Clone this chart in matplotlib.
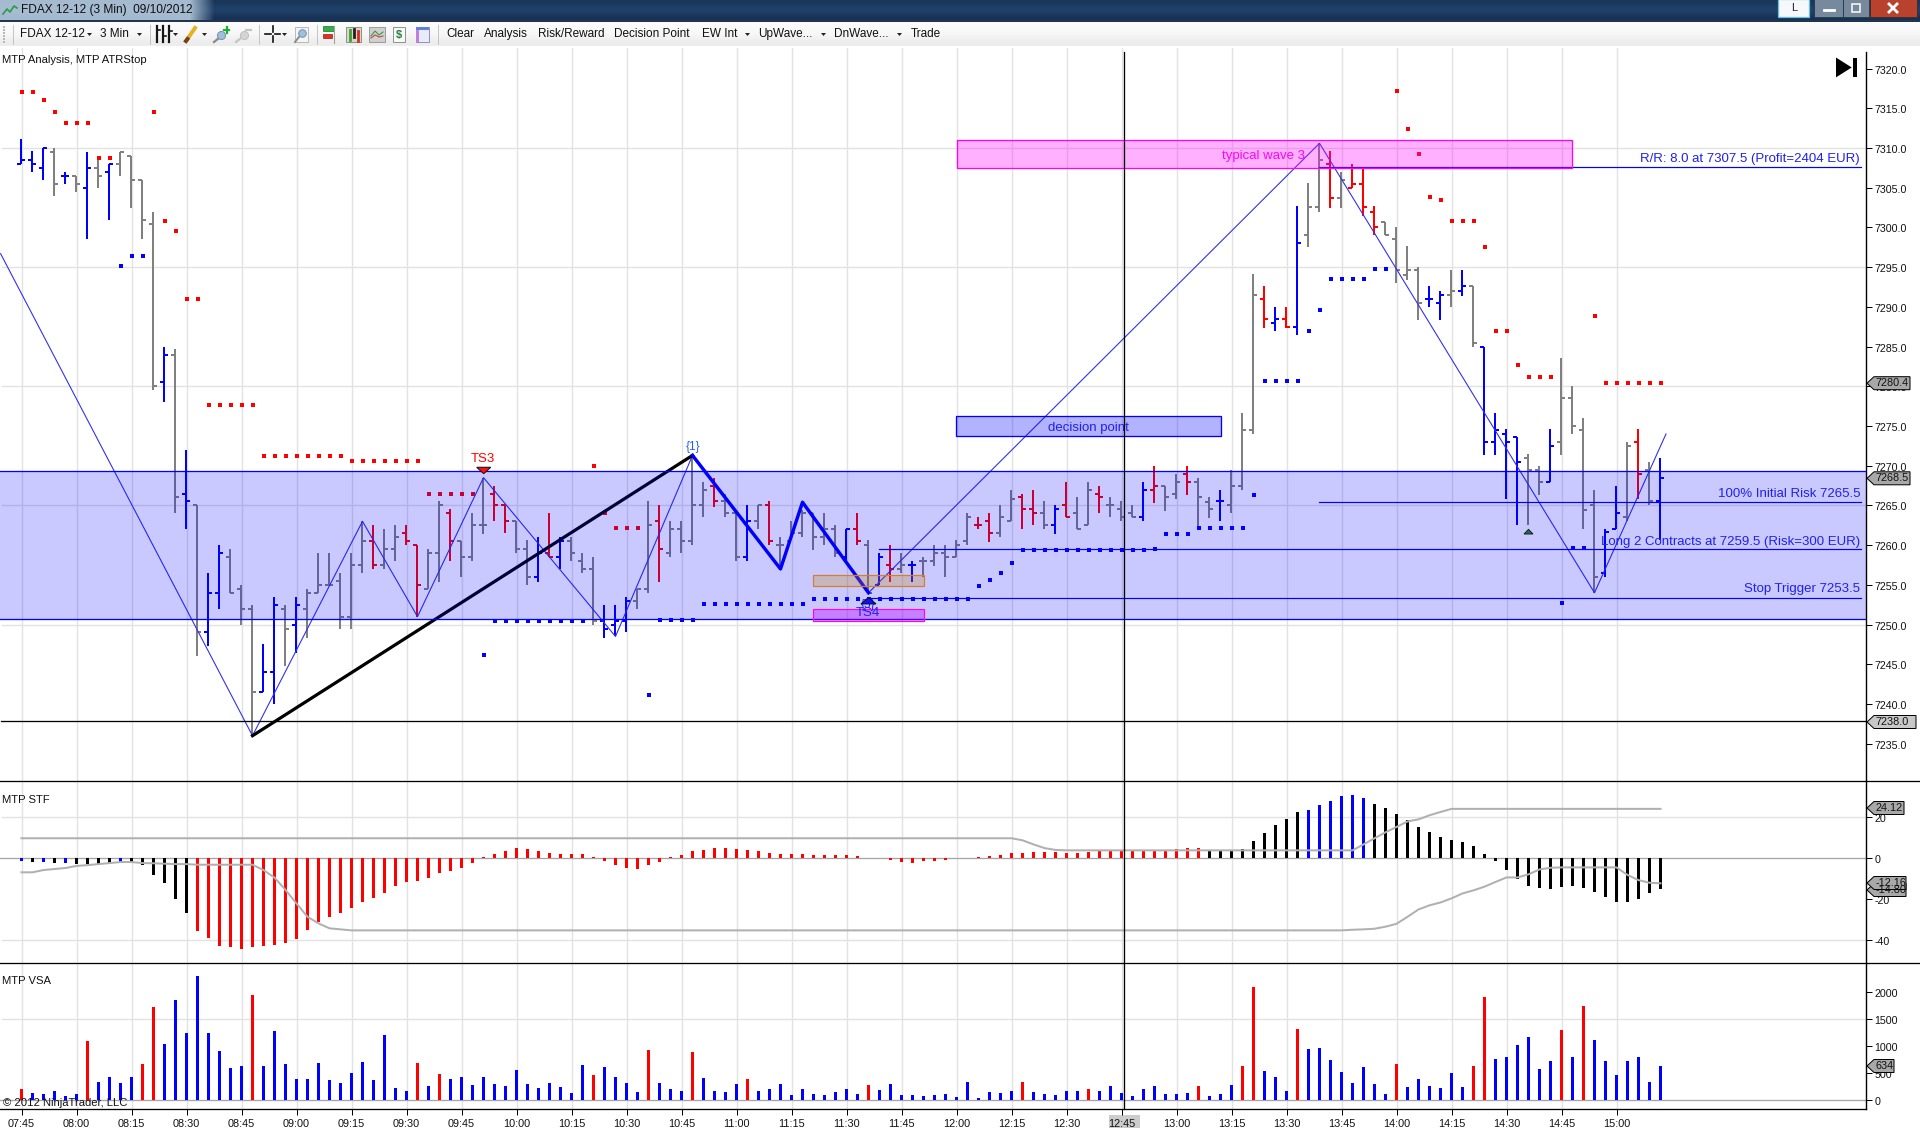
"""
FDAX 12-12 3 min chart, NinjaTrader style screenshot
"""
import matplotlib
matplotlib.use('Agg')
import matplotlib.pyplot as plt
from matplotlib.patches import Polygon, Rectangle
from matplotlib.transforms import ScaledTranslation
import numpy as np

plt.rcParams['font.family'] = ['Liberation Sans', 'DejaVu Sans']
plt.rcParams['axes.unicode_minus'] = False

W, H = 1920, 1131
AXIS_X = 1866
BAR0_X, BAR_PX = 21.5, 11.0

# one letter per bar: g grey, b blue, r red
bar_colors = ("bbbgbgbgbg" "gggbgbgbbg" "ggbbgbgggg" "ggrggrrggr" "gggrrggbrb"
              "gggbbbggrg" "gggrggbgrg" "gggggbrgbr" "gbgggggrrg" "grrgbrggrg"
              "ggbrggrggb" "gggrbrbggr" "grrrggggbb" "gbgbbbbggb" "ggggbbgrgb")
opens = [7308, 7308.5, 7307.5, 7309.5, 7306.5, 7306.5, 7305, 7307.5, 7307, 7308, 7309, 7306, 7300.5, 7280.6, 7284,
         7266.5, 7265, 7249, 7254, 7258.5, 7254.5, 7252, 7241.5, 7244, 7252, 7250, 7252, 7254, 7255, 7255.5,
         7251, 7257.5, 7260.5, 7257.5, 7259.5, 7261.5, 7260, 7254.5, 7259, 7264, 7260.5, 7258.5, 7262.5, 7266.4, 7265,
         7263, 7259.5, 7256, 7259, 7258.5, 7260.5, 7258, 7257, 7250.5, 7250, 7250.5, 7253, 7254.5, 7263, 7259,
         7262, 7260.5, 7265, 7267.5, 7265.5, 7264, 7258.5, 7263, 7265, 7260, 7260.5, 7261.5, 7264, 7261, 7262,
         7258.5, 7262, 7260, 7255, 7257.5, 7257, 7257.5, 7258, 7258, 7259, 7258.5, 7260.5, 7262.5, 7263, 7261.5,
         7263, 7266, 7264.5, 7264, 7262.5, 7265, 7264, 7262.5, 7266.5, 7265, 7264.5, 7264, 7263.5, 7267, 7267.5,
         7266.4, 7269, 7268, 7265.4, 7265.5, 7265, 7267.5, 7274.5, 7291, 7288, 7288.5, 7287.5, 7299, 7302.6, 7308,
         7303.7, 7305, 7305.5, 7302, 7300.7, 7298.6, 7294, 7294.6, 7291, 7290.5, 7291.5, 7292, 7292.6, 7285, 7273,
         7274, 7273.6, 7271, 7269.5, 7268, 7273, 7278.5, 7274.5, 7265, 7256.5, 7262, 7263.5, 7273, 7269.5, 7265.5]
highs = [7311.1, 7309.6, 7310, 7310, 7307, 7306.5, 7309.5, 7309, 7308, 7309.5, 7309, 7306, 7302, 7285, 7284.7,
         7272, 7265, 7256.5, 7260, 7259.5, 7255, 7252.5, 7247.5, 7253.5, 7252.5, 7253.5, 7254.5, 7259, 7259, 7256.5,
         7259, 7263, 7262.5, 7262, 7262.5, 7262.5, 7260, 7259.5, 7265.5, 7264.5, 7260.5, 7264, 7268.5, 7267.5, 7265,
         7263, 7260.6, 7261, 7264, 7261, 7261, 7259, 7258.5, 7252.5, 7252.5, 7253.5, 7254.5, 7265.5, 7265, 7263,
         7263, 7271.3, 7268, 7268.5, 7266.5, 7264, 7265, 7265, 7265.5, 7261, 7263, 7264.4, 7264, 7264, 7262.5,
         7262, 7264, 7260.6, 7259, 7260, 7259, 7258, 7258.5, 7260, 7260, 7260.6, 7264, 7263.6, 7264, 7265,
         7267, 7266.5, 7267, 7265.5, 7265, 7268, 7266, 7268, 7267.5, 7266, 7265.5, 7265, 7268, 7270, 7267.5,
         7269, 7270, 7268.5, 7266, 7267, 7269.5, 7276.6, 7294.2, 7292.6, 7290, 7290, 7302.7, 7305.6, 7310.6, 7309.6,
         7307, 7308, 7307.6, 7302.7, 7300.7, 7300, 7297.7, 7295, 7292.6, 7292, 7294.6, 7294.6, 7292.6, 7285, 7276.6,
         7274.6, 7273.6, 7271.5, 7270, 7274.6, 7283.6, 7280, 7276, 7267, 7262, 7267.5, 7273, 7274.6, 7270.5, 7271]
lows = [7308, 7307, 7306, 7304, 7305.5, 7304.5, 7298.5, 7305, 7301, 7306.5, 7302.5, 7298.5, 7279.5, 7278, 7264,
        7262, 7246, 7247.3, 7252, 7254, 7250, 7236, 7241.5, 7240, 7244.8, 7246.4, 7248.3, 7254, 7255, 7249.5,
        7249.5, 7256.5, 7257, 7257, 7258, 7260, 7251, 7254.5, 7255.4, 7258, 7256, 7258, 7261.4, 7263, 7261.5,
        7259, 7255, 7255.4, 7258.5, 7257, 7258, 7256.5, 7250, 7248.3, 7248.5, 7249, 7252, 7254, 7255.4, 7258.5,
        7259, 7260, 7263.5, 7264.8, 7263.5, 7258, 7258, 7262, 7260, 7257, 7261, 7261, 7259.4, 7260, 7258.5,
        7258, 7260, 7254, 7255, 7255.4, 7256.5, 7255.4, 7256, 7257.4, 7256, 7258.5, 7260, 7262, 7260.4, 7261,
        7263, 7262, 7262.5, 7262, 7261.4, 7263.5, 7262, 7262.5, 7264, 7263.5, 7263, 7263.5, 7263, 7265.3, 7264.3,
        7265.8, 7266.3, 7262.3, 7263.4, 7263, 7264, 7267, 7274, 7287.4, 7287, 7287.4, 7286.5, 7297.5, 7302, 7302.5,
        7302.5, 7305, 7301.5, 7299, 7299, 7293, 7293.4, 7288.4, 7290, 7288.4, 7290, 7291.4, 7285, 7271.4, 7271.4,
        7265.8, 7262.5, 7262.5, 7266.3, 7268, 7271.4, 7274, 7262, 7254, 7256, 7262, 7263, 7265.8, 7265, 7260.6]
closes = [7308.5, 7308, 7310, 7305.5, 7306.5, 7305.5, 7307.5, 7306.5, 7308, 7309.5, 7306, 7301, 7280, 7284, 7266,
          7265.5, 7249, 7254, 7259, 7254, 7252, 7241.5, 7244, 7252.5, 7249.5, 7252.5, 7254, 7255, 7255, 7251,
          7257.5, 7260.5, 7257.5, 7259.5, 7261, 7260.5, 7255, 7259, 7265, 7260.5, 7258.5, 7262.5, 7262.5, 7265, 7263,
          7259.5, 7256, 7259, 7258.5, 7260.5, 7259, 7257, 7250.5, 7249.5, 7250.5, 7253, 7254.5, 7262.5, 7259.5, 7262,
          7260.5, 7265, 7267, 7265.5, 7264, 7258.5, 7263, 7265, 7260.5, 7260, 7261.5, 7264, 7261, 7262, 7259,
          7262, 7260.5, 7254, 7258.5, 7257, 7257.5, 7257.5, 7258, 7259, 7258.5, 7260, 7263.5, 7262.5, 7261.5, 7263.5,
          7265.8, 7264.5, 7264, 7262.5, 7264.5, 7263.5, 7262, 7267, 7266, 7265, 7263.5, 7263.5, 7267, 7267.5, 7266,
          7268, 7268, 7266, 7264.5, 7265.5, 7267.5, 7274.5, 7291.5, 7288.5, 7288.5, 7287.5, 7298, 7302.6, 7308.5, 7303.7,
          7306, 7305.5, 7302.6, 7300, 7299, 7294.6, 7294.6, 7290.5, 7291, 7291.5, 7292, 7292.6, 7285.4, 7273, 7274.5,
          7273, 7270.5, 7269.5, 7268, 7272.5, 7278.5, 7275, 7264.4, 7256, 7261.6, 7264, 7272.5, 7269, 7265.5, 7268.5]

# ATR stop dots: (bar, price)
stop_red_bars = list(range(0, 9)) + list(range(12, 37)) + list(range(37, 42)) + list(range(52, 57)) + list(range(125, 140)) + list(range(143, 150))
stop_red_vals = [7317, 7317, 7316, 7314.6, 7313.2, 7313.2, 7313.2, 7308.7, 7308.7,
                 7314.5, 7300.8, 7299.6, 7291, 7291, 7277.6, 7277.6, 7277.6, 7277.6, 7277.6,
                 7271.2, 7271.2, 7271.2, 7271.2, 7271.2, 7271.2, 7271.2, 7271.2,
                 7270.6, 7270.6, 7270.6, 7270.6, 7270.6, 7270.6, 7270.6,
                 7266.4, 7266.4, 7266.4, 7266.4, 7266.4,
                 7270, 7264, 7262.2, 7262.2, 7262.2,
                 7317.2, 7312.4, 7309.3, 7303.8, 7303.5, 7300.8, 7300.8, 7300.8, 7297.6,
                 7287, 7287, 7282.7, 7281.2, 7281.2, 7281.2,
                 7288.9, 7280.4, 7280.4, 7280.4, 7280.4, 7280.4, 7280.4]
stop_blue_bars = [9, 10, 11, 42] + list(range(43, 52)) + list(range(57, 125)) + [140, 141, 142]
stop_blue_vals = [7295.2, 7296.4, 7296.4, 7246.2] + [7250.4] * 9 + [7241.1, 7250.6, 7250.6, 7250.6, 7250.6] \
    + [7252.6] * 10 + [7253.2] * 15 + [7254.9, 7255.6, 7256.5, 7257.8] + [7259.4] * 12 + [7259.5] \
    + [7261.4] * 3 + [7262.2] * 5 + [7266.3] + [7280.7] * 4 + [7287, 7289.6] + [7293.5] * 4 + [7294.8, 7294.8] \
    + [7252.7, 7259.7, 7259.7]

# wave lines
wave_thin_bars = [-1.9, 21, 31, 36, 42, 54, 61]
wave_thin_vals = [7296.7, 7236, 7263, 7251, 7268.5, 7248.5, 7271.3]
wave_thick_bars = [61, 69, 71, 77]
wave_thick_vals = [7271.3, 7257, 7265.4, 7254]
wave_after_bars = [77, 118, 143, 149.5]
wave_after_vals = [7254, 7310.6, 7254, 7274]
black_bars = [21, 61]
black_vals = [7236, 7271.3]

price_ticks = list(range(7235, 7325, 5))
price_grid = [7250, 7265, 7280, 7295, 7310]
time_labels = ['07:45', '08:00', '08:15', '08:30', '08:45', '09:00', '09:15', '09:30', '09:45', '10:00', '10:15',
               '10:30', '10:45', '11:00', '11:15', '11:30', '11:45', '12:00', '12:15', '12:30', '12:45', '13:00',
               '13:15', '13:30', '13:45', '14:00', '14:15', '14:30', '14:45', '15:00']

stf_hist = [-1.3, -1.6, -1.6, -2.1, -2.1, -2.6, -2.8, -3.1, -2.6, -2.1, -2.1, -3.1, -8.1, -11.9, -19.7,
            -26.5, -35.3, -38.7, -42.6, -43.1, -44.1, -43.1, -42.6, -42.1, -41.1, -39.2, -34.8, -30.9, -28.5, -26.5,
            -24.1, -21.1, -19.2, -16.7, -13.3, -11.4, -10.9, -9.4, -7.0, -6.0, -4.6, -2.1, 0.5, 2.1, 3.6,
            4.9, 4.4, 3.6, 2.6, 2.1, 2.1, 2.1, 0.5, -1.1, -3.1, -4.6, -5.0, -3.1, -1.6, 0.5,
            1.6, 3.6, 4.1, 5.0, 5.0, 4.6, 4.1, 3.6, 2.6, 2.1, 2.1, 2.1, 1.6, 1.6, 1.6,
            1.6, 1.1, 0, 0.3, -0.8, -1.8, -2.3, -1.3, -1.3, -0.8, 0.3, 0, 0.6, 1.1, 1.6,
            2.6, 2.6, 3.1, 3.1, 3.1, 2.6, 2.6, 3.1, 3.6, 3.6, 3.6, 4.1, 3.6, 3.6, 3.6,
            4.6, 5.0, 5.0, 4.1, 4.1, 3.6, 4.6, 8.5, 12.4, 16.3, 19.2, 22.6, 23.6, 26, 28,
            30.4, 30.9, 29.4, 26.5, 24.6, 21.6, 18.7, 15.3, 12.8, 10.4, 8.9, 8, 6, 2.1, -1.3,
            -5.7, -9.9, -13.3, -14.3, -14.8, -13.8, -13.3, -14.3, -16.3, -18.7, -21.1, -21.1, -19.7, -16.7, -14.8]
stf_blue = [0, 2, 4, 9, 117, 118, 119, 120, 121, 122]
stf_black = list(range(0, 16)) + list(range(108, 150))

stf_upper = [9.8] * 91 + [8.8, 6.8, 5, 4.1] + [3.9] * 27 + [6.8, 9.8, 12.7, 15.3, 18, 19, 21, 22.6, 24.12] + [24.12] * 19
stf_lower = [-6.8, -6.8, -5.7, -5.2, -4.7, -3.7, -3.3, -2.8, -2.3, -1.8, -1.8, -2.3, -2.4, -2.6, -2.8, -2.8,
             -3.1, -3.1, -3.1, -3.1, -3.1, -3.1, -5.7, -9.4, -15.4, -22, -28.5, -31.7, -34.1, -34.6] \
    + [-35.1] * 91 + [-34.8, -34.6, -34.3, -33.3, -31.9, -28.5, -24.9, -22.9, -21.5, -19.5, -17.1, -15.6, -13.8,
                      -11.5, -9.3, -9.3, -7.8, -5.4, -4.6, -4.4, -4.4, -4.4, -4.4, -4.4, -4.4, -8.1, -10.6, -11.9, -12.16]

volume = [204, 130, 111, 167, 74, 111, 1092, 333, 426, 315, 426, 666, 1721, 1037, 1851,
          1240, 2295, 1240, 907, 592, 629, 1943, 629, 1277, 666, 389, 389, 685, 370, 315,
          500, 703, 370, 1203, 222, 167, 685, 259, 481, 389, 426, 278, 426, 296, 259,
          555, 296, 222, 315, 241, 130, 648, 463, 611, 426, 315, 148, 926, 315, 204,
          167, 888, 407, 167, 148, 296, 389, 167, 204, 296, 93, 204, 111, 93, 148,
          204, 111, 278, 185, 296, 93, 93, 74, 93, 111, 56, 333, 37, 148, 130,
          167, 333, 148, 111, 93, 167, 167, 204, 167, 259, 130, 74, 204, 259, 111,
          111, 130, 259, 74, 111, 278, 629, 2092, 537, 426, 167, 1314, 944, 962, 740,
          518, 315, 611, 296, 111, 666, 241, 389, 259, 222, 500, 241, 629, 1907, 759,
          796, 1018, 1166, 574, 722, 1296, 796, 1740, 1111, 722, 463, 722, 796, 333, 634]
vol_red = [0, 6, 11, 12, 21, 36, 38, 52, 57, 61, 66, 77, 91, 97, 107, 111, 112, 116, 125, 132, 133, 140, 142]

toolbar_items = [('FDAX 12-12', 20), ('3 Min', 100), ('Clear', 446), ('Analysis', 484), ('Risk/Reward', 538),
                 ('Decision Point', 614), ('EW Int', 702), ('UpWave...', 758), ('DnWave...', 834), ('Trade', 911)]
toolbar_arrows = [87, 137, 173, 202, 282, 745, 821, 897]

C = {'grid': '#e2e2e2', 'zero': '#a6a6a6', 'gray': '#808080', 'blue': '#0000ff', 'red': '#ff0000', 'band': '#b0b0b0',
     'text': '#111111'}
PX = 0.72  # one pixel in points at dpi 100

fig = plt.figure(figsize=(W / 100, H / 100), dpi=100, facecolor='white')


def px_axes(x0, y0, x1, y1):
    return fig.add_axes([x0 / W, 1 - y1 / H, (x1 - x0) / W, (y1 - y0) / H])


def bar_x(i):
    return BAR0_X + BAR_PX * np.asarray(i, dtype=float)


def style(ax, y0, y1):
    ax.set_xlim(0, AXIS_X)
    ax.set_ylim(y0, y1)
    ax.set_xticks([])
    ax.set_facecolor('white')
    for s in ax.spines.values():
        s.set_visible(False)
    ax.spines['right'].set_visible(True)
    ax.spines['right'].set_linewidth(1.4 * PX)
    ax.yaxis.tick_right()
    ax.tick_params(axis='y', length=6 * PX, width=PX, pad=1.6, labelsize=7.7, labelcolor=C['text'])
    for i in range(0, 150, 5):
        ax.axvline(bar_x(i), color=C['grid'], lw=1.4 * PX, zorder=0)


def nudge_labels(ax):
    # reference labels sit about a pixel under the tick
    for lab in ax.get_yticklabels():
        lab.set_transform(lab.get_transform() + ScaledTranslation(0, -1 / 100, fig.dpi_scale_trans))


# frame: title bar and toolbar
bg = px_axes(0, 0, W, 48)
title_grad = np.array([[0.10, 0.21, 0.35], [0.14, 0.28, 0.45], [0.09, 0.19, 0.33]])[:, None, :]
bg.imshow(title_grad, extent=(0, W, 20, 0), aspect='auto', interpolation='bicubic', zorder=0)
fade_x = np.linspace(0, 220, 220)
rgba = np.zeros((1, 220, 4))
rgba[..., :3] = [0.75, 0.83, 0.90]
rgba[..., 3] = np.clip((215 - fade_x) / 25, 0, 1) * 0.85
bg.imshow(rgba, extent=(0, 220, 20, 0), aspect='auto', zorder=1)
bg.set_xlim(0, W)
bg.set_ylim(48, 0)
bg.axis('off')
tool_grad = np.array([[0.985], [0.97], [0.93]]).repeat(3, axis=1)[:, None, :]
bg.imshow(tool_grad, extent=(0, W, 46, 21), aspect='auto', interpolation='bilinear', zorder=0)
bg.set_xlim(0, W)
bg.set_ylim(48, 0)
bg.add_patch(Rectangle((0, 20), W, 1.5, fc='#20364e', ec='none'))
bg.text(21, 10.5, 'FDAX 12-12 (3 Min)  09/10/2012', fontsize=8.6, va='center', color='#101010')
bg.plot([3, 7, 10, 14, 17], [14, 9, 12, 6, 8], color='#2c9a4a', lw=1.2)
for label, x in toolbar_items:
    bg.text(x, 34, label, fontsize=8.5, va='center', color='#101010')
for x in toolbar_arrows:
    bg.add_patch(Polygon([[x, 33], [x + 5, 33], [x + 2.5, 36]], fc='#222222', ec='none'))
for y in range(26, 44, 3):
    bg.add_patch(Rectangle((3, y), 2, 1.5, fc='#b8b8b8', ec='none'))
for x in [13, 150, 259, 317, 438]:
    bg.plot([x, x], [25, 44], color='#c4c4c4', lw=0.7)
# bar style icon
for x, y in [(157, 30), (163, 36), (169, 31)]:
    bg.plot([x, x], [26, 42], color='#151515', lw=1.6)
    bg.plot([x, x + 3], [y, y], color='#151515', lw=1.2)
# pencil and magnifiers
bg.plot([186, 195], [41, 28], color='#e8b020', lw=2.8)
bg.plot([186, 187.5], [41, 39], color='#704020', lw=2.8)
bg.plot([214, 219], [42, 38], color='#8a8a8a', lw=1.6)
bg.scatter([221], [35], s=34, color='#9cc0de', edgecolors='#7890a8', linewidths=0.7, zorder=3)
bg.plot([224, 229], [30, 30], color='#18b030', lw=1.6)
bg.plot([226.5, 226.5], [27, 33], color='#18b030', lw=1.6)
bg.plot([236, 241], [42, 38], color='#c4c4c4', lw=1.6)
bg.scatter([244], [35], s=34, color='#d4d4d4', edgecolors='#c0c0c0', linewidths=0.7, zorder=3)
bg.plot([246, 251], [30, 30], color='#c4c4c4', lw=1.6)
# crosshair and zoom box
bg.plot([265, 271], [34, 34], color='#111111', lw=1.2)
bg.plot([275, 280], [34, 34], color='#111111', lw=1.2)
bg.plot([273, 273], [26, 32], color='#111111', lw=1.2)
bg.plot([273, 273], [36, 42], color='#111111', lw=1.2)
bg.add_patch(Rectangle((295, 27), 13, 15, fc='#f4f4f4', ec='#b0b0b0', lw=0.6))
bg.scatter([302], [33], s=30, color='#9cc0de', edgecolors='#7890a8', linewidths=0.7, zorder=3)
bg.plot([295, 299], [42, 37], color='#8a8a8a', lw=1.4)
# chart tool icons
bg.add_patch(Rectangle((323, 26), 11, 5, fc='#30b040', ec='#207030', lw=0.5))
bg.add_patch(Rectangle((323, 34), 9, 4, fc='#e03020', ec='#902010', lw=0.5))
bg.plot([334, 334], [26, 43], color='#a0a0a0', lw=0.8)
bg.add_patch(Rectangle((346, 27), 15, 15, fc='#d8d8c8', ec='#808080', lw=0.6))
for x, y0, y1, col in [(350, 30, 40, '#40a030'), (354, 29, 37, '#202020'), (358, 31, 41, '#d03020')]:
    bg.plot([x, x], [y0, y1], color=col, lw=2)
bg.add_patch(Rectangle((369, 27), 16, 15, fc='#d0d0d0', ec='#909090', lw=0.6))
bg.plot([371, 375, 379, 383], [36, 31, 35, 32], color='#30a040', lw=0.8)
bg.plot([371, 375, 379, 383], [38, 35, 37, 36], color='#d04040', lw=0.8)
bg.add_patch(Rectangle((393, 27), 12, 15, fc='#f8f8f8', ec='#808080', lw=0.6))
bg.text(399, 35, '$', fontsize=8, fontweight='bold', color='#20803a', ha='center', va='center')
bg.add_patch(Rectangle((416, 27), 13, 15, fc='#e8ecf8', ec='#8080c0', lw=0.6))
bg.add_patch(Rectangle((416, 27), 13, 3, fc='#6080e0', ec='none'))
bg.add_patch(Rectangle((416, 30), 3, 12, fc='#c080e0', ec='none'))

# window buttons
bg.add_patch(Rectangle((1778, -1), 31, 18, fc='#f6f8fa', ec='#60c0e8', lw=0.9))
bg.text(1794, 8, 'L', fontsize=8, ha='center', va='center', color='#202040')
bg.add_patch(Rectangle((1814, -1), 29, 18, fc='#76899d', ec='#2c3c4e', lw=0.7))
bg.add_patch(Rectangle((1843, -1), 26, 18, fc='#76899d', ec='#2c3c4e', lw=0.7))
bg.add_patch(Rectangle((1870, -1), 47, 18, fc='#b8422e', ec='#4a2a2a', lw=0.7))
bg.plot([1824, 1834], [10, 10], color='white', lw=2)
bg.add_patch(Rectangle((1852, 4), 8, 8, fc='none', ec='white', lw=1.1))
bg.plot([1889, 1897], [4, 12], color='white', lw=2)
bg.plot([1889, 1897], [12, 4], color='white', lw=2)

# price panel
ax = px_axes(0, 48, AXIS_X, 781)
style(ax, 7230.3, 7322.6)
ax.spines['right'].set_bounds(7230.3, 7322.1)
ax.set_yticks(price_ticks)
ax.set_yticklabels([f'{p:.1f}' for p in price_ticks])
nudge_labels(ax)
for p in price_grid:
    ax.plot([2, AXIS_X], [p, p], color=C['grid'], lw=1.4 * PX, zorder=0)

col_map = {'g': C['gray'], 'b': C['blue'], 'r': C['red']}
xs = bar_x(range(len(opens))) - 0.5
for x, o, h, l, c, k in zip(xs, opens, highs, lows, closes, bar_colors):
    col = col_map[k]
    ax.plot([x, x], [l, h], color=col, lw=2 * PX, solid_capstyle='butt', zorder=2)
    ax.plot([x - 4, x], [o, o], color=col, lw=2 * PX, solid_capstyle='butt', zorder=2)
    ax.plot([x, x + 4], [c, c], color=col, lw=2 * PX, solid_capstyle='butt', zorder=2)

ax.scatter(bar_x(stop_red_bars) + 0.5, stop_red_vals, marker='s', s=12, color=C['red'], linewidths=0, zorder=2)
ax.scatter(bar_x(stop_blue_bars) + 0.5, stop_blue_vals, marker='s', s=12, color=C['blue'], linewidths=0, zorder=2)

ax.plot(bar_x(wave_thin_bars), wave_thin_vals, color='#3030f0', lw=1.1 * PX, zorder=3)
ax.plot(bar_x(wave_after_bars), wave_after_vals, color='#3030f0', lw=1.1 * PX, zorder=3)
ax.plot(bar_x(black_bars), black_vals, color='black', lw=3.2 * PX, zorder=3)
ax.plot(bar_x(wave_thick_bars), wave_thick_vals, color=C['blue'], lw=3.4 * PX, zorder=3)

# zones and levels
ax.plot([1, AXIS_X], [7237.8, 7237.8], color='black', lw=1.3 * PX, zorder=3)
ax.add_patch(Rectangle((0, 7250.65), AXIS_X, 7269.3 - 7250.65, fc=(0, 0, 1, 0.21), ec='none', zorder=4))
for p in [7269.3, 7250.65]:
    ax.plot([0, AXIS_X], [p, p], color=C['blue'], lw=1.3 * PX, zorder=5)
for p, x0 in [(7307.6, 1318.5), (7265.4, 1319), (7259.5, 879), (7253.4, 867)]:
    ax.plot([x0, 1861], [p, p], color=C['blue'], lw=1.2 * PX, zorder=5)

ax.add_patch(Rectangle((956.5, 7307.5), 1572.4 - 956.5, 3.5, fc=(1, 0, 1, 0.31), ec='#ff00ff', lw=1.3 * PX, zorder=5))
ax.add_patch(Rectangle((956.3, 7273.7), 1220.7 - 956.3, 2.5, fc=(0, 0, 1, 0.3), ec=C['blue'], lw=1.3 * PX, zorder=5))
ax.add_patch(Rectangle((813.3, 7254.8), 110.4, 1.5, fc=(0.8, 0.5, 0, 0.26), ec='#d08030', lw=1.2 * PX, zorder=5))
ax.add_patch(Rectangle((813.3, 7250.5), 110.4, 1.5, fc=(0.75, 0, 1, 0.37), ec='#ff00ff', lw=1.2 * PX, zorder=5))

tfont = dict(fontsize=9.5, zorder=6, va='center')
ax.text(1264, 7309.05, 'typical wave 3', color='#ff00ff', ha='center', **tfont)
ax.text(1088, 7274.75, 'decision point', color='#2020f0', ha='center', **tfont)
ax.text(868, 7251.4, 'TS4', color='#2020f0', ha='center', **tfont)
ax.text(483, 7270.9, 'TS3', color=C['red'], ha='center', **tfont)
ax.text(692.7, 7272.3, '{1}', color='#2060ff', ha='center', va='center', fontsize=8.6, zorder=6)
ax.text(868, 7252.5, '{5}', color='#2020f0', ha='center', va='center', fontsize=8.6, zorder=6)
for x, p, s in [(1860, 7308.65, 'R/R: 8.0 at 7307.5 (Profit=2404 EUR)'),
                (1860, 7266.4, '100% Initial Risk 7265.5'),
                (1860, 7260.45, 'Long 2 Contracts at 7259.5 (Risk=300 EUR)'),
                (1860, 7254.45, 'Stop Trigger 7253.5')]:
    ax.text(x, p, s, color='#2020f0', ha='right', **tfont)

ax.add_patch(Polygon([[476.7, 7269.8], [490.7, 7269.8], [483.7, 7269.0]], fc='#ff1010', ec='#301010', lw=0.8, zorder=6))
ax.add_patch(Polygon([[861, 7252.6], [876, 7252.6], [868.5, 7253.4]], fc='#1010ff', ec='#101030', lw=0.8, zorder=6))
ax.add_patch(Polygon([[1524, 7261.4], [1533, 7261.4], [1528.5, 7262.0]], fc='#207050', ec='#101010', lw=0.6, zorder=6))

# jump-to-end icon
ax.add_patch(Polygon([[1836, 7321.4], [1851.7, 7320.15], [1836, 7318.9]], fc='black', ec='none', zorder=6))
ax.add_patch(Rectangle((1853, 7318.9), 3.5, 2.5, fc='black', ec='none', zorder=6))
ax.text(2, 7321.1, 'MTP Analysis, MTP ATRStop', fontsize=8.1, va='center', color=C['text'], zorder=6)

# STF panel
ax2 = px_axes(0, 781, AXIS_X, 963)
style(ax2, -51, 37.7)
stf_ticks = [-40, -20, 0, 20]
ax2.set_yticks(stf_ticks)
ax2.set_yticklabels([str(v) for v in stf_ticks])
nudge_labels(ax2)
for p in [20, -40]:
    ax2.plot([2, AXIS_X], [p, p], color=C['grid'], lw=1.4 * PX, zorder=0)
ax2.axhline(0, color=C['zero'], lw=1.3 * PX, zorder=1)
stf_cols = []
for i in range(len(stf_hist)):
    if i in stf_blue:
        stf_cols.append(C['blue'])
    elif i in stf_black:
        stf_cols.append('black')
    else:
        stf_cols.append(C['red'])
ax2.bar(bar_x(range(len(stf_hist))), stf_hist, width=3, color=stf_cols, zorder=2)
ax2.plot(bar_x(range(len(stf_upper))), stf_upper, color=C['band'], lw=2 * PX, zorder=3)
ax2.plot(bar_x(range(len(stf_lower))), stf_lower, color=C['band'], lw=2 * PX, zorder=3)
ax2.text(2, 28.6, 'MTP STF', fontsize=8.1, va='center', color=C['text'])

# VSA panel
ax3 = px_axes(0, 963, AXIS_X, 1109)
style(ax3, -161, 2543)
vol_ticks = [0, 500, 1000, 1500, 2000]
ax3.set_yticks(vol_ticks)
ax3.set_yticklabels([str(v) for v in vol_ticks])
nudge_labels(ax3)
ax3.plot([2, AXIS_X], [1500, 1500], color=C['grid'], lw=1.4 * PX, zorder=0)
ax3.axhline(0, color=C['zero'], lw=1.3 * PX, zorder=1)
ax3.bar(bar_x(range(len(volume))), volume, width=3,
        color=[C['red'] if i in vol_red else C['blue'] for i in range(len(volume))], zorder=2)
ax3.text(2, 2205, 'MTP VSA', fontsize=8.1, va='center', color=C['text'])
ax3.text(3, -44, '\u00a9 2012 NinjaTrader, LLC', fontsize=8.1, va='center', color=C['text'], zorder=5)

# panel borders
for y in [781, 963, 1109]:
    fig.add_artist(plt.Line2D([0, AXIS_X / W if y == 1109 else 1], [1 - y / H] * 2, color='black', lw=1.3 * PX))

# time axis
ax3.set_xticks(bar_x(range(0, 150, 5)))
ax3.set_xticklabels(time_labels, fontsize=7.8, color=C['text'])
ax3.tick_params(axis='x', length=6 * PX, width=PX, pad=3.2)

# crosshair and its time box
fig.add_artist(plt.Line2D([1124.3 / W] * 2, [1 - 1109 / H, 1 - 52 / H], color='black', lw=1.3 * PX, zorder=10))
fig.add_artist(Rectangle((1109 / W, 1 - 1128 / H), 31 / W, 13 / H, fc='#cccccc', ec='none',
                         transform=fig.transFigure, zorder=-1))
ax3.patch.set_alpha(1)
fig.patch.set_zorder(-2)


def tag(x1, y, label, fc):
    x0 = 1867
    d = 6.5
    pts = [[x0, y], [x0 + 7, y - d], [x1, y - d], [x1, y + d], [x0 + 7, y + d]]
    fig.add_artist(Polygon(np.array(pts) / [W, -H] + [0, 1], closed=True, fc=fc, ec='black', lw=PX,
                           transform=fig.transFigure, zorder=11))
    fig.text((x0 + 8.5) / W, 1 - y / H, label, fontsize=7.8, va='center', color=C['text'], zorder=12)


tag(1910, 383.2, '7280.4', '#a8a8a8')
tag(1910, 478.3, '7268.5', '#a8a8a8')
tag(1916, 722, '7238.0', '#c8c8c8')
tag(1904, 808, '24.12', '#a8a8a8')
tag(1906, 890, '-14.80', '#a8a8a8')
tag(1906, 883, '-12.16', '#a8a8a8')
tag(1894, 1066, '634', '#a8a8a8')

fig.savefig('out.png', dpi=100, facecolor='white')
